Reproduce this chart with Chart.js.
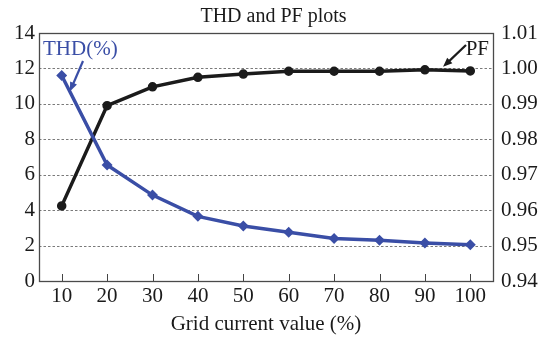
<!DOCTYPE html>
<html lang="en">
<head>
<meta charset="UTF-8" />
<title>THD and PF plots</title>
<script src="https://cdn.jsdelivr.net/npm/chart.js@4.4.1/dist/chart.umd.min.js"></script>
<style>
  html, body { margin: 0; padding: 0; background: #ffffff; }
  #wrap { width: 547px; height: 337px; position: relative; }
</style>
</head>
<body>
<div id="wrap"><canvas id="thdPfChart"></canvas></div>
<script>
// grid current (%) and measured values
const gridCurrent = ['10', '20', '30', '40', '50', '60', '70', '80', '90', '100'];
const thdValues = [11.6, 6.55, 4.85, 3.65, 3.1, 2.75, 2.4, 2.3, 2.15, 2.05];
const pfValues = [0.9612, 0.9895, 0.9948, 0.9975, 0.9984, 0.9992, 0.9992, 0.9992, 0.9996, 0.9993];

const thdTicks = [0, 2, 4, 6, 8, 10, 12, 14];
const pfTicks = [0.94, 0.95, 0.96, 0.97, 0.98, 0.99, 1.00, 1.01];

const SERIF = "'Liberation Serif', 'DejaVu Serif', serif";
const BLUE = '#3a4ea6';
const BLACK = '#1b1b1b';

function arrow(ctx, x1, y1, x2, y2, color) {
  const a = Math.atan2(y2 - y1, x2 - x1);
  const h = 10;
  ctx.save();
  ctx.strokeStyle = color;
  ctx.fillStyle = color;
  ctx.lineWidth = 2.2;
  ctx.beginPath();
  ctx.moveTo(x1, y1);
  ctx.lineTo(x2 - Math.cos(a) * h * 0.8, y2 - Math.sin(a) * h * 0.8);
  ctx.stroke();
  ctx.beginPath();
  ctx.moveTo(x2, y2);
  ctx.lineTo(x2 - h * Math.cos(a - 0.38), y2 - h * Math.sin(a - 0.38));
  ctx.lineTo(x2 - h * Math.cos(a + 0.38), y2 - h * Math.sin(a + 0.38));
  ctx.closePath();
  ctx.fill();
  ctx.restore();
}

// dotted horizontal grid under the lines
const gridLines = {
  id: 'gridLines',
  beforeDatasetsDraw(chart) {
    const { ctx, chartArea: a, scales } = chart;
    ctx.save();
    ctx.strokeStyle = '#7a7a7a';
    ctx.lineWidth = 1;
    ctx.setLineDash([2.5, 2]);
    thdTicks.forEach(v => {
      const y = Math.round(scales.y.getPixelForValue(v)) + 0.5;
      ctx.beginPath();
      ctx.moveTo(a.left, y);
      ctx.lineTo(a.right, y);
      ctx.stroke();
    });
    ctx.restore();
  }
};

// frame, inner tick marks and series labels
const decorations = {
  id: 'decorations',
  afterDatasetsDraw(chart) {
    const { ctx, chartArea: a, scales } = chart;
    ctx.save();
    ctx.strokeStyle = '#4a4a4a';
    ctx.lineWidth = 1.3;
    ctx.strokeRect(Math.round(a.left) + 0.5, Math.round(a.top) + 0.5,
      Math.round(a.right - a.left), Math.round(a.bottom - a.top));
    ctx.strokeStyle = '#444';
    ctx.lineWidth = 1;
    scales.x.ticks.forEach((t, i) => {
      const x = Math.round(scales.x.getPixelForTick(i)) + 0.5;
      ctx.beginPath();
      ctx.moveTo(x, a.bottom);
      ctx.lineTo(x, a.bottom - 7);
      ctx.stroke();
    });

    ctx.font = '21px ' + SERIF;
    ctx.textBaseline = 'middle';
    // THD label
    ctx.fillStyle = BLUE;
    ctx.textAlign = 'left';
    ctx.fillText('THD(%)', a.left + 4, a.top + 16);
    const p0 = chart.getDatasetMeta(0).data[0];
    const p1 = chart.getDatasetMeta(0).data[1];
    const tx = p0.x + (p1.x - p0.x) * 0.18;
    const ty = p0.y + (p1.y - p0.y) * 0.18;
    arrow(ctx, a.left + 44, a.top + 28, tx, ty, BLUE);
    // PF label
    ctx.fillStyle = BLACK;
    ctx.textAlign = 'right';
    ctx.fillText('PF', a.right - 4, a.top + 16);
    const q0 = chart.getDatasetMeta(1).data[8];
    const q1 = chart.getDatasetMeta(1).data[9];
    arrow(ctx, a.right - 27, a.top + 12, q0.x + (q1.x - q0.x) * 0.4, q0.y - 3, BLACK);
    ctx.restore();
  }
};

new Chart(document.getElementById('thdPfChart'), {
  type: 'line',
  data: {
    labels: gridCurrent,
    datasets: [
      {
        label: 'THD(%)',
        data: thdValues,
        yAxisID: 'y',
        borderColor: BLUE,
        backgroundColor: BLUE,
        borderWidth: 3.5,
        pointStyle: 'rectRot',
        pointRadius: 3,
        tension: 0
      },
      {
        label: 'PF',
        data: pfValues,
        yAxisID: 'y1',
        borderColor: BLACK,
        backgroundColor: BLACK,
        borderWidth: 3.5,
        pointRadius: 3,
        tension: 0
      }
    ]
  },
  options: {
    responsive: true,
    maintainAspectRatio: false,
    animation: false,
    layout: { padding: 0 },
    plugins: {
      legend: { display: false },
      tooltip: { enabled: false },
      title: {
        display: true,
        text: 'THD and PF plots',
        color: '#1a1a1a',
        font: { family: SERIF, size: 20, weight: 'normal' },
        padding: { top: 5, bottom: 4 }
      }
    },
    scales: {
      x: {
        offset: true,
        grid: { display: false, drawTicks: false },
        border: { display: false },
        ticks: { color: '#1a1a1a', padding: 3, font: { family: SERIF, size: 21 }, maxRotation: 0 },
        title: {
          display: true,
          text: 'Grid current value (%)',
          color: '#1a1a1a',
          font: { family: SERIF, size: 21 },
          padding: { top: 0, bottom: 0 }
        },
        afterFit(s) { s.height = 56; }
      },
      y: {
        position: 'left',
        min: 0,
        max: 14,
        afterBuildTicks(s) { s.ticks = thdTicks.map(v => ({ value: v })); },
        grid: { display: false, drawTicks: false },
        border: { display: false },
        ticks: { color: '#1a1a1a', padding: 4, font: { family: SERIF, size: 21 } },
        afterFit(s) { s.width = 39; }
      },
      y1: {
        position: 'right',
        min: 0.94,
        max: 1.01,
        afterBuildTicks(s) { s.ticks = pfTicks.map(v => ({ value: v })); },
        grid: { display: false, drawTicks: false },
        border: { display: false },
        ticks: {
          color: '#1a1a1a',
          padding: 8,
          font: { family: SERIF, size: 21 },
          callback: v => v.toFixed(2)
        },
        afterFit(s) { s.width = 54; }
      }
    }
  },
  plugins: [gridLines, decorations]
});
</script>
</body>
</html>
